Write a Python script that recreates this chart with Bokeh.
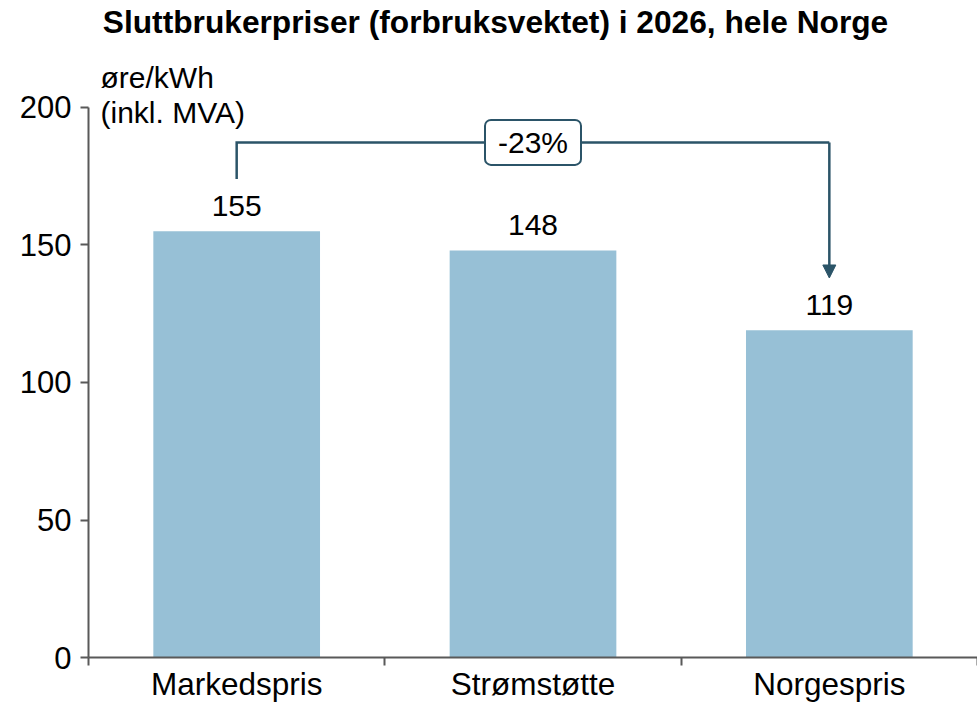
from bokeh.plotting import figure
from bokeh.models import Range1d, FixedTicker, Label, Arrow, NormalHead, ColumnDataSource
from bokeh.core.properties import value
from bokeh.embed import file_html
from bokeh.resources import INLINE

# ---- data ----
categories = ["Markedspris", "Strømstøtte", "Norgespris"]
prices = [155, 148, 119]
y_ticks = [0, 50, 100, 150, 200]
title_text = "Sluttbrukerpriser (forbruksvektet) i 2026, hele Norge"
unit_lines = ["øre/kWh", "(inkl. MVA)"]

# ---- style ----
FONT = "Liberation Sans"
BAR = "#97c0d6"
DARK = "#2b5468"
AXIS = "#595959"

W, H = 977, 702
PX = 2.75              # pixels per y unit
X_LEFT_PAD = 0.297     # space left of the first category (axis units)
Y_TOP, Y_BOTTOM = 238.9, -16.36
BASE_FIX = 10 / PX     # shift for alphabetic baseline placement

xs = [i + 0.5 for i in range(len(categories))]
label_lift = 15 / PX + BASE_FIX
src = ColumnDataSource(dict(x=xs, top=prices,
                            ly=[v + label_lift for v in prices],
                            label=[str(v) for v in prices]))

p = figure(width=W, height=H,
           x_range=Range1d(-X_LEFT_PAD, len(categories)), y_range=Range1d(Y_BOTTOM, Y_TOP),
           output_backend="svg", toolbar_location=None,
           min_border_left=0, min_border_right=0,
           min_border_top=0, min_border_bottom=0)
p.outline_line_color = None
p.xgrid.visible = False
p.ygrid.visible = False
p.background_fill_color = "white"
p.border_fill_color = "white"

p.vbar(x="x", top="top", width=0.5625, source=src, fill_color=BAR, line_color=None)

p.text(x="x", y="ly", text="label", source=src,
       text_align="center", text_baseline="alphabetic",
       text_font=value(FONT), text_font_size=value("30px"), text_color="black")

# y axis
ya = p.yaxis[0]
ya.fixed_location = 0
ya.bounds = (y_ticks[0], y_ticks[-1])
ya.ticker = FixedTicker(ticks=y_ticks)
ya.axis_line_color = AXIS
ya.axis_line_width = 2
ya.major_tick_line_color = AXIS
ya.major_tick_line_width = 2
ya.major_tick_out = 8
ya.major_tick_in = 0
ya.minor_tick_line_color = None
ya.major_label_standoff = 9
ya.major_label_text_font = FONT
ya.major_label_text_font_size = "31px"
ya.major_label_text_color = "black"

# x axis
xa = p.xaxis[0]
xa.fixed_location = 0
xa.bounds = (0, len(categories))
xa.ticker = FixedTicker(ticks=xs, minor_ticks=list(range(len(categories) + 1)))
xa.major_label_overrides = {x: c for x, c in zip(xs, categories)}
xa.axis_line_color = AXIS
xa.axis_line_width = 2
xa.major_tick_line_color = None
xa.major_tick_out = 0
xa.major_tick_in = 0
xa.minor_tick_line_color = AXIS
xa.minor_tick_line_width = 2
xa.minor_tick_out = 8
xa.minor_tick_in = 0
xa.major_label_standoff = 0
xa.major_label_text_font = FONT
xa.major_label_text_font_size = "31.5px"
xa.major_label_text_color = "black"

# title
p.add_layout(Label(x=1.3735, y=227.45 + BASE_FIX, text=title_text, text_align="center",
                   text_baseline="alphabetic", text_font=FONT,
                   text_font_size="31.7px", text_font_style="bold", text_color="black"))

# unit label
for txt, yy in zip(unit_lines, [207.3, 194.5]):
    p.add_layout(Label(x=0.0405, y=yy + BASE_FIX, text=txt, text_align="left",
                       text_baseline="alphabetic", text_font=FONT,
                       text_font_size="30px", text_color="black"))

# bracket with arrow
gap = 19
top_y = max(prices) + 32.3
p.line(x=[xs[0], xs[0], xs[2]], y=[prices[0] + gap, top_y, top_y],
       line_color=DARK, line_width=2.5, line_join="miter")
p.add_layout(Arrow(x_start=xs[2], y_start=top_y, x_end=xs[2], y_end=prices[2] + gap,
                   line_color=DARK, line_width=2.5,
                   end=NormalHead(size=13, fill_color=DARK, line_color=DARK, line_width=1)))

change = round((prices[2] / prices[0] - 1) * 100)
p.add_layout(Label(x=xs[1], y=top_y, text=f"{change}%", text_align="center",
                   text_baseline="middle", text_font=FONT, text_font_size="30px",
                   text_color="black", background_fill_color="white",
                   border_line_color=DARK, border_line_width=2,
                   padding=(13, 6), border_radius=6))

open("out.html", "w").write(file_html(p, INLINE))
